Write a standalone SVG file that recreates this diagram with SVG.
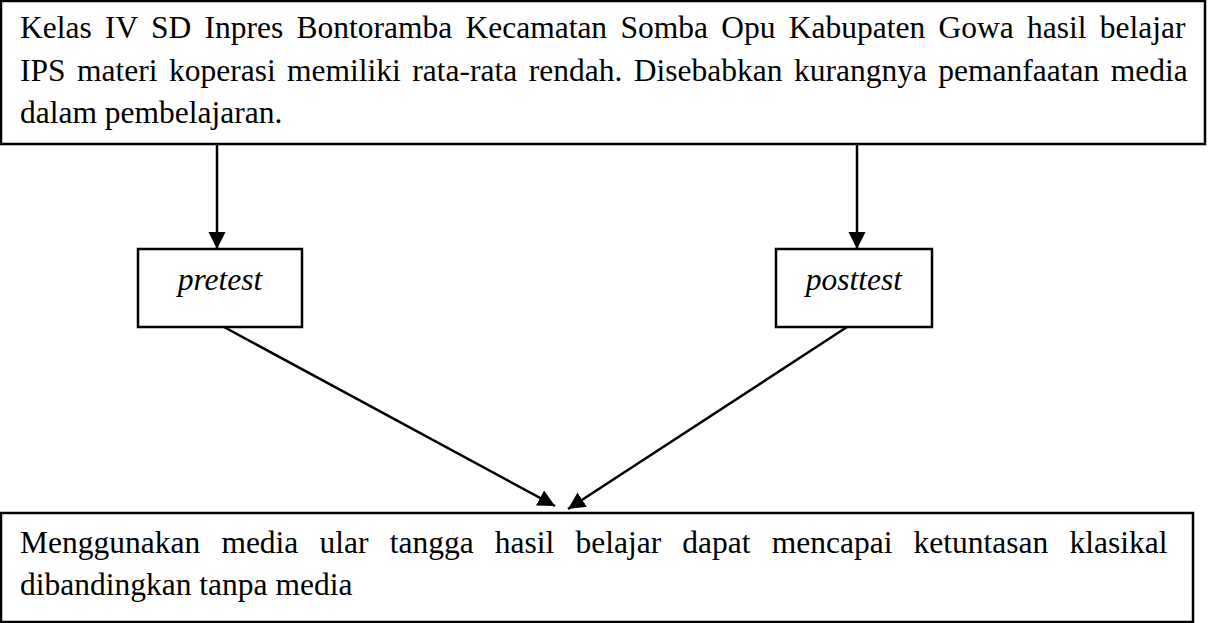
<svg xmlns="http://www.w3.org/2000/svg" width="1208" height="623" viewBox="0 0 1208 623">
<style>
.box{fill:#fff;stroke:#000;stroke-width:2.5}
.t{font-family:"Liberation Serif","Times New Roman",serif;font-size:31.5px;fill:#000}
.i{font-style:italic}
.c{stroke:#000;stroke-width:2.5;fill:none}
</style>
<defs>
<marker id="ah" markerUnits="userSpaceOnUse" markerWidth="20" markerHeight="18" refX="17" refY="8.5" orient="auto">
<path d="M0,0 L17,8.5 L0,17 Z" fill="#000"/>
</marker>
</defs>
<rect width="1208" height="623" fill="#fff"/>
<g id="top">
<rect class="box" x="1" y="1" width="1204" height="143"/>
<text class="t" x="20" y="38" word-spacing="5.4">Kelas IV SD Inpres Bontoramba Kecamatan Somba Opu Kabupaten Gowa hasil belajar</text>
<text class="t" x="20" y="81" word-spacing="3.6">IPS materi koperasi memiliki rata-rata rendah. Disebabkan kurangnya pemanfaatan media</text>
<text class="t" x="20" y="123">dalam pembelajaran.</text>
</g>
<g id="pretest">
<rect class="box" x="138" y="249" width="164" height="78"/>
<text class="t i" x="220" y="290" text-anchor="middle">pretest</text>
</g>
<g id="posttest">
<rect class="box" x="776" y="249" width="156" height="78"/>
<text class="t i" x="854" y="290" text-anchor="middle">posttest</text>
</g>
<g id="bottom">
<rect class="box" x="1" y="513" width="1192" height="109"/>
<text class="t" x="20" y="553" word-spacing="13.3">Menggunakan media ular tangga hasil belajar dapat mencapai ketuntasan klasikal</text>
<text class="t" x="20" y="595">dibandingkan tanpa media</text>
</g>
<g id="connectors">
<line class="c" x1="217" y1="144" x2="217" y2="249" marker-end="url(#ah)"/>
<line class="c" x1="857" y1="144" x2="857" y2="249" marker-end="url(#ah)"/>
<line class="c" x1="224" y1="327" x2="555" y2="506" marker-end="url(#ah)"/>
<line class="c" x1="847" y1="327" x2="568" y2="509" marker-end="url(#ah)"/>
</g>
</svg>
